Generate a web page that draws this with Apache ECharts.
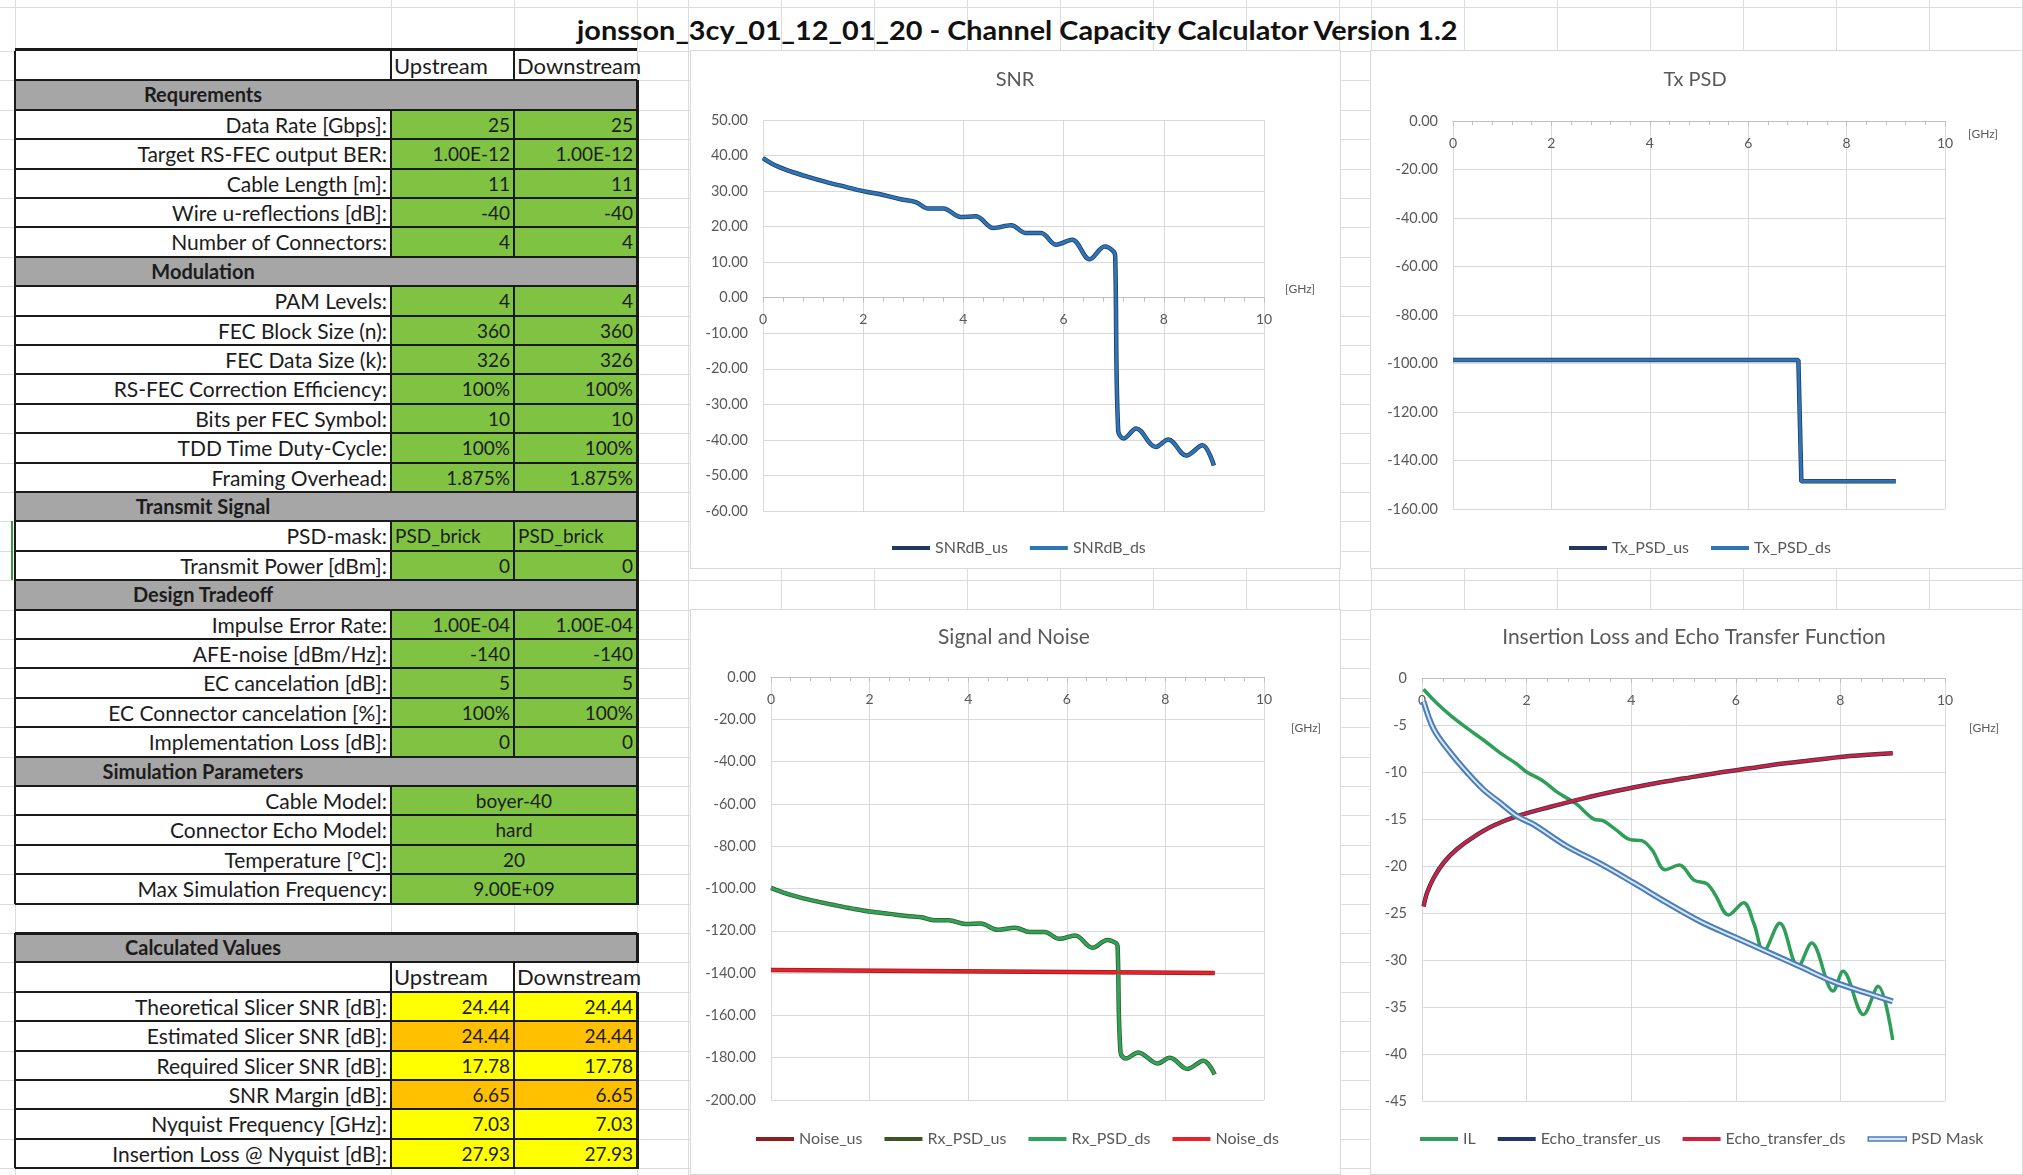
<!DOCTYPE html>
<html>
<head>
<meta charset="utf-8">
<title>Channel Capacity Calculator</title>
<script src="https://cdn.jsdelivr.net/npm/echarts@6/dist/echarts.min.js"></script>
<style>
  html, body { margin: 0; padding: 0; background: #fff; }
  #page { position: relative; width: 2023px; height: 1175px; overflow: hidden; font-family: Lato, "Open Sans", sans-serif; }
  #sheet { position: absolute; left: 0; top: 0; width: 2023px; height: 1175px; }
  #chart { position: absolute; left: 0; top: 0; width: 2023px; height: 1175px; }
  .abs { position: absolute; box-sizing: border-box; }
</style>
</head>
<body>
<div id="page">
  <div id="sheet"></div>
  <div id="chart"></div>
</div>
<script>
// ---- values ----
// SNR and received PSD share one frequency grid [GHz]
const freqGrid = [0, 0.25, 0.6, 0.95, 1.3, 1.65, 2.0, 2.4, 2.75, 3.05, 3.3, 3.6, 3.95, 4.25, 4.6, 4.95, 5.25, 5.55, 5.85, 6.17, 6.52, 6.82, 7.0, 7.03, 7.09, 7.2, 7.45, 7.84, 8.09, 8.45, 8.77, 9.0];
const snrDb = [39.3, 37.2, 35.3, 33.8, 32.4, 31.2, 30.0, 28.9, 27.7, 26.9, 25.1, 25.1, 22.7, 22.9, 19.6, 20.4, 18.2, 18.2, 14.9, 16.3, 10.8, 14.4, 13.0, 11.5, -37.5, -39.6, -36.8, -42.0, -39.9, -44.4, -41.5, -47.2];
const rxPsd = [-99.7, -101.9, -104.3, -106.2, -107.9, -109.5, -110.9, -112.0, -113.0, -113.6, -115.0, -115.0, -116.8, -116.6, -119.5, -118.5, -120.6, -120.6, -123.8, -122.2, -128.0, -124.3, -125.8, -127.2, -177.6, -180.4, -177.5, -182.7, -180.0, -185.3, -181.4, -187.9];

const noiseFreq = [0, 9.0];
const noisePsd = [-138.5, -140.0];

const txFreq = [0, 7.02, 7.08, 9.0];
const txPsd = [-98.6, -98.6, -148.6, -148.6];

const ilFreq = [0.03, 0.25, 0.55, 0.9, 1.2, 1.5, 1.8, 2.0, 2.3, 2.6, 2.95, 3.28, 3.47, 3.7, 3.98, 4.2, 4.4, 4.65, 4.92, 5.2, 5.45, 5.6, 5.86, 6.15, 6.35, 6.53, 6.84, 7.19, 7.45, 7.86, 8.05, 8.44, 8.72, 9.0];
const ilDb = [-1.2, -2.5, -4.0, -5.5, -6.7, -8.0, -9.1, -10.0, -10.9, -12.2, -13.4, -15.0, -15.2, -16.1, -17.2, -17.3, -18.3, -20.4, -19.9, -21.5, -21.9, -23.0, -25.2, -23.9, -26.2, -29.1, -26.1, -30.7, -28.2, -33.3, -31.2, -35.8, -32.8, -38.5];

const echoFreq = [0.03, 0.1, 0.23, 0.42, 0.67, 0.99, 1.37, 1.82, 2.46, 3.09, 3.73, 4.36, 5.0, 5.64, 6.27, 6.91, 7.54, 8.18, 9.0];
const echoDb = [-24.3, -22.8, -21.2, -19.6, -18.2, -16.9, -15.7, -14.7, -13.7, -12.8, -12.0, -11.3, -10.7, -10.1, -9.6, -9.1, -8.7, -8.3, -8.0];

const maskFreq = [0.03, 0.23, 0.55, 0.87, 1.18, 1.5, 1.82, 2.14, 2.77, 3.41, 4.05, 4.68, 5.32, 5.95, 6.59, 7.23, 7.86, 8.5, 9.0];
const maskDb = [-2.5, -5.5, -8.0, -10.1, -11.9, -13.3, -14.7, -15.6, -17.9, -19.75, -21.8, -23.9, -25.9, -27.5, -29.1, -30.7, -32.3, -33.5, -34.4];

// spreadsheet part
const tableRows = [
  ['head'],
  ['sec', 'Requrements'],
  ['val', 'Data Rate [Gbps]:', '25', '25'],
  ['val', 'Target RS-FEC output BER:', '1.00E-12', '1.00E-12'],
  ['val', 'Cable Length [m]:', '11', '11'],
  ['val', 'Wire u-reflections [dB]:', '-40', '-40'],
  ['val', 'Number of Connectors:', '4', '4'],
  ['sec', 'Modulation'],
  ['val', 'PAM Levels:', '4', '4'],
  ['val', 'FEC Block Size (n):', '360', '360'],
  ['val', 'FEC Data Size (k):', '326', '326'],
  ['val', 'RS-FEC Correction Efficiency:', '100%', '100%'],
  ['val', 'Bits per FEC Symbol:', '10', '10'],
  ['val', 'TDD Time Duty-Cycle:', '100%', '100%'],
  ['val', 'Framing Overhead:', '1.875%', '1.875%'],
  ['sec', 'Transmit Signal'],
  ['txt', 'PSD-mask:', 'PSD_brick', 'PSD_brick'],
  ['val', 'Transmit Power [dBm]:', '0', '0'],
  ['sec', 'Design Tradeoff'],
  ['val', 'Impulse Error Rate:', '1.00E-04', '1.00E-04'],
  ['val', 'AFE-noise [dBm/Hz]:', '-140', '-140'],
  ['val', 'EC cancelation [dB]:', '5', '5'],
  ['val', 'EC Connector cancelation [%]:', '100%', '100%'],
  ['val', 'Implementation Loss [dB]:', '0', '0'],
  ['sec', 'Simulation Parameters'],
  ['merge', 'Cable Model:', 'boyer-40'],
  ['merge', 'Connector Echo Model:', 'hard'],
  ['merge', 'Temperature [°C]:', '20'],
  ['merge', 'Max Simulation Frequency:', '9.00E+09'],
  ['blank'],
  ['sec', 'Calculated Values'],
  ['head'],
  ['calc', 'Theoretical Slicer SNR [dB]:', '24.44', '24.44', 'y'],
  ['calc', 'Estimated Slicer SNR [dB]:', '24.44', '24.44', 'o'],
  ['calc', 'Required Slicer SNR [dB]:', '17.78', '17.78', 'y'],
  ['calc', 'SNR Margin [dB]:', '6.65', '6.65', 'o'],
  ['calc', 'Nyquist Frequency [GHz]:', '7.03', '7.03', 'y'],
  ['calc', 'Insertion Loss @ Nyquist [dB]:', '27.93', '27.93', 'y'],
];

// ---- sheet drawing ----
const sheet = document.getElementById('sheet');
const FONT = 'Lato, "Open Sans", sans-serif';
const rowH = 29.4, tableTop = 51;
const X0 = 15, X1 = 391, X2 = 514, X3 = 637;
const fills = { green: '#80c342', gray: '#a6a6a6', y: '#ffff00', o: '#ffc000' };

function box(x, y, w, h, css) {
  const d = document.createElement('div');
  d.className = 'abs';
  Object.assign(d.style, { left: x + 'px', top: y + 'px', width: w + 'px', height: h + 'px' }, css || {});
  sheet.appendChild(d);
  return d;
}
function label(x, y, w, str, css) {
  const d = box(x, y, w, rowH, Object.assign({
    lineHeight: rowH + 'px', fontSize: '19px', whiteSpace: 'nowrap', color: '#1c1c1c', padding: '0 4px'
  }, css));
  d.textContent = str;
}

// light cell grid of the worksheet
const colLines = [15, 391, 514, 637, 688, 781, 874, 967, 1060, 1153, 1246, 1339, 1371, 1464, 1557, 1650, 1743, 1836, 1929, 2022];
colLines.forEach(x => box(x, 0, 1, 1175, { background: '#dcdcdc' }));
box(0, 7, 2023, 1, { background: '#dcdcdc' });
for (let k = 0; k <= 38; k++) box(0, tableTop + k * rowH, 2023, 1, { background: '#dcdcdc' });

// chart areas
[[690, 50, 651, 519], [1370, 50, 653, 519], [690, 609, 651, 566], [1370, 609, 653, 566]].forEach(r =>
  box(r[0], r[1], r[2], r[3], { background: '#fff', border: '1px solid #d9d9d9' }));

// title, stretched to the width it has in the sheet
const titleBox = box(577, 11, 881, 38, {});
const titleSpan = document.createElement('span');
titleSpan.textContent = 'jonsson_3cy_01_12_01_20 - Channel Capacity Calculator Version 1.2';
Object.assign(titleSpan.style, { display: 'inline-block', fontSize: '26px', fontWeight: 'bold', lineHeight: '38px', color: '#111', whiteSpace: 'nowrap', transformOrigin: 'left center' });
titleBox.appendChild(titleSpan);
titleSpan.style.transform = 'scaleX(' + (881 / titleSpan.offsetWidth).toFixed(4) + ')';

// table cells
const labelCss = { textAlign: 'right', fontSize: '21px' };
tableRows.forEach((r, i) => {
  const t = tableTop + i * rowH;
  const kind = r[0];
  if (kind === 'sec') {
    box(X0, t, X3 - X0, rowH, { background: fills.gray });
    label(X0, t, X1 - X0, r[1], { textAlign: 'center', fontWeight: 'bold', fontSize: '20px' });
  } else if (kind === 'head') {
    box(X0, t, X3 - X0, rowH, { background: '#fff' });
    label(X1, t, X2 - X1, 'Upstream', { textAlign: 'left', fontSize: '22px', padding: '0 3px' });
    label(X2, t, X3 - X2, 'Downstream', { textAlign: 'left', fontSize: '22px', padding: '0 3px' });
  } else if (kind === 'merge') {
    box(X0, t, X1 - X0, rowH, { background: '#fff' });
    box(X1, t, X3 - X1, rowH, { background: fills.green });
    label(X0, t, X1 - X0, r[1], labelCss);
    label(X1, t, X3 - X1, r[2], { textAlign: 'center' });
  } else if (kind === 'val' || kind === 'txt' || kind === 'calc') {
    const fill = kind === 'calc' ? fills[r[4]] : fills.green;
    const align = kind === 'txt' ? 'left' : 'right';
    box(X0, t, X1 - X0, rowH, { background: '#fff' });
    box(X1, t, X3 - X1, rowH, { background: fill });
    label(X0, t, X1 - X0, r[1], labelCss);
    label(X1, t, X2 - X1, r[2], { textAlign: align });
    label(X2, t, X3 - X2, r[3], { textAlign: align });
  }
});

// table borders
const ink = '#1a1a1a';
box(X0, 48, X3 - X0, 3, { background: ink });
tableRows.forEach((r, i) => {
  const t = tableTop + i * rowH;
  const kind = r[0];
  if (kind === 'blank') return;
  box(X0, t + rowH - 1, X3 - X0, 2, { background: ink });
  box(X0 - 1, t, 2, rowH, { background: ink });
  if (kind !== 'sec') box(X1 - 1, t, 2, rowH, { background: ink });
  if (kind !== 'sec' && kind !== 'merge') box(X2 - 1, t, 2, rowH, { background: ink });
  if (kind !== 'head') box(X3 - 1, t, 3, rowH + 1, { background: ink });
});
box(X0 - 4, tableTop + 16 * rowH, 2, 2 * rowH, { background: '#3c9a3c' });
box(X0, tableTop + 30 * rowH - 1, X3 - X0, 3, { background: ink });

// ---- charts ----
const pairs = (xs, ys) => xs.map((x, i) => [x, ys[i]]);
const grey = '#595959';

const grids = [
  { left: 763, top: 120, width: 501, height: 391 },
  { left: 1453, top: 121, width: 492, height: 388 },
  { left: 771, top: 677, width: 493, height: 423 },
  { left: 1422, top: 678, width: 523, height: 423 }
];
// the frequency axis sits on the 0 dB line, labels below it
const xOffsets = [-213.3, -388, -423, -423];

function xAxisFor(i) {
  return {
    type: 'value', gridIndex: i, min: 0, max: 10, interval: 2,
    position: 'bottom', offset: xOffsets[i],
    axisLine: { onZero: false, lineStyle: { color: '#bfbfbf', width: 1 } },
    axisTick: { show: true, length: 5, lineStyle: { color: '#bfbfbf' } },
    minorTick: { show: true, splitNumber: 5, length: 4, lineStyle: { color: '#bfbfbf' } },
    axisLabel: { color: grey, fontSize: 14, fontFamily: FONT, margin: 15 },
    splitLine: { show: true, lineStyle: { color: '#d9d9d9' } }
  };
}
function yAxisFor(i, min, max, interval, digits) {
  return {
    type: 'value', gridIndex: i, min, max, interval,
    axisLine: { show: false }, axisTick: { show: false },
    axisLabel: { color: grey, fontSize: 14.5, fontFamily: FONT, margin: 15, formatter: v => v.toFixed(digits) },
    splitLine: { show: true, lineStyle: { color: '#d9d9d9' } }
  };
}
function curve(name, gi, data, color, width, smooth) {
  return {
    name, type: 'line', xAxisIndex: gi, yAxisIndex: gi, data,
    showSymbol: false, symbol: 'none', smooth: smooth ? 0.35 : false,
    lineStyle: { color, width }, itemStyle: { color }
  };
}

const legendBase = {
  icon: 'rect', itemWidth: 38, itemHeight: 4, itemGap: 22, padding: 0,
  textStyle: { color: grey, fontSize: 16, fontFamily: FONT }
};
const txt = (text, x, y, size) => ({
  type: 'text', x, y,
  style: { text, fill: grey, fontSize: size, fontFamily: FONT, align: 'center', verticalAlign: 'middle', textAlign: 'center', textVerticalAlign: 'middle' }
});

const chart = echarts.init(document.getElementById('chart'), null, { renderer: 'canvas' });
chart.setOption({
  backgroundColor: 'transparent',
  animation: false,
  grid: grids,
  xAxis: [xAxisFor(0), xAxisFor(1), xAxisFor(2), xAxisFor(3)],
  yAxis: [
    yAxisFor(0, -60, 50, 10, 2),
    yAxisFor(1, -160, 0, 20, 2),
    yAxisFor(2, -200, 0, 20, 2),
    yAxisFor(3, -45, 0, 5, 0)
  ],
  legend: [
    Object.assign({ left: 892, top: 540, data: ['SNRdB_us', 'SNRdB_ds'] }, legendBase),
    Object.assign({ left: 1569, top: 540, data: ['Tx_PSD_us', 'Tx_PSD_ds'] }, legendBase),
    Object.assign({ left: 756, top: 1131, data: ['Noise_us', 'Rx_PSD_us', 'Rx_PSD_ds', 'Noise_ds'] }, legendBase),
    Object.assign({ left: 1420, top: 1131, data: ['IL', 'Echo_transfer_us', 'Echo_transfer_ds',
      { name: 'PSD Mask', itemStyle: { color: '#dbe7f5', borderColor: '#4a7ebb', borderWidth: 1.5 } }] }, legendBase)
  ],
  graphic: [
    txt('SNR', 1015, 80, 20),
    txt('Tx PSD', 1695, 80, 20),
    txt('Signal and Noise', 1014, 637, 21),
    txt('Insertion Loss and Echo Transfer Function', 1694, 637, 21),
    txt('[GHz]', 1300, 289, 12),
    txt('[GHz]', 1983, 134, 12),
    txt('[GHz]', 1306, 728, 12),
    txt('[GHz]', 1984, 728, 12)
  ],
  series: [
    curve('SNRdB_us', 0, pairs(freqGrid, snrDb), '#1f3864', 4.5, true),
    curve('SNRdB_ds', 0, pairs(freqGrid, snrDb), '#2e75b6', 3, true),
    curve('Tx_PSD_us', 1, pairs(txFreq, txPsd), '#1f3864', 4.5, false),
    curve('Tx_PSD_ds', 1, pairs(txFreq, txPsd), '#2e75b6', 3, false),
    curve('Noise_us', 2, pairs(noiseFreq, noisePsd), '#8b1e1e', 4.5, false),
    curve('Rx_PSD_us', 2, pairs(freqGrid, rxPsd), '#385723', 4.5, true),
    curve('Rx_PSD_ds', 2, pairs(freqGrid, rxPsd), '#2da35c', 3, true),
    curve('Noise_ds', 2, pairs(noiseFreq, noisePsd), '#e8212b', 3, false),
    curve('IL', 3, pairs(ilFreq, ilDb), '#2e9e58', 3.5, true),
    curve('Echo_transfer_us', 3, pairs(echoFreq, echoDb), '#1f3864', 4.5, true),
    curve('Echo_transfer_ds', 3, pairs(echoFreq, echoDb), '#d0213a', 3, true),
    curve('PSD Mask', 3, pairs(maskFreq, maskDb), '#4a7ebb', 6, true),
    curve('PSD Mask inner', 3, pairs(maskFreq, maskDb), '#dbe7f5', 2, true)
  ]
});
</script>
</body>
</html>
